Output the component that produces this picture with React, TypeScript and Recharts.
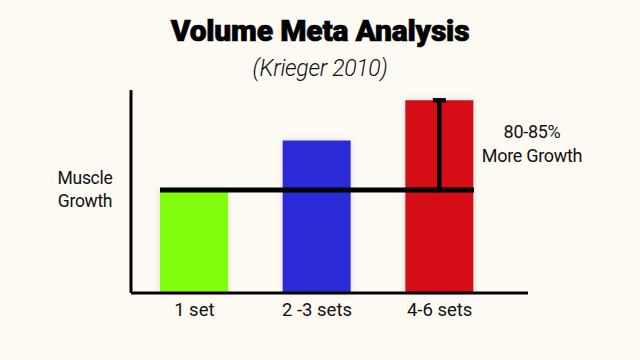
import { BarChart, Bar, XAxis, YAxis, ReferenceLine, ErrorBar, Cell } from "recharts";

const categories = ["1 set", "2 -3 sets", "4-6 sets"];
const growth = [100, 148, 187];
// extra growth of 4-6 sets over the 1-set level, drawn as a whisker down to the baseline
const extra = [null, null, [87, 0]];
const barColors = ["#80fc0e", "#2b2bd6", "#d41118"];
const baseline = 100;

const data = categories.map((name, i) => ({ name, growth: growth[i], extra: extra[i], idx: i }));

const font = "Roboto, 'Noto Sans', sans-serif";

export default function App() {
  return (
    <div
      style={{
        position: "absolute",
        top: 0,
        left: 0,
        width: 640,
        height: 360,
        background: "#fdfaf3",
        fontFamily: font,
        color: "#111",
        overflow: "hidden",
      }}
    >
      <div
        style={{
          position: "absolute",
          top: 13,
          width: 640,
          textAlign: "center",
          fontSize: 30,
          fontWeight: 900,
          letterSpacing: -0.2,
          lineHeight: "36px",
          WebkitTextStroke: "0.7px #000",
          color: "#000",
        }}
      >
        Volume Meta Analysis
      </div>
      <div
        style={{
          position: "absolute",
          top: 55,
          width: 640,
          textAlign: "center",
          fontSize: 23,
          fontWeight: 300,
          fontStyle: "italic",
          lineHeight: "28px",
          letterSpacing: -0.3,
        }}
      >
        (Krieger 2010)
      </div>

      <BarChart
        width={640}
        height={360}
        data={data}
        margin={{ top: 90, right: 112, left: 130, bottom: 37 }}
        style={{ position: "absolute", top: 0, left: 0 }}
      >
        <defs>
          <filter id="soft" x="-20%" y="-20%" width="140%" height="140%">
            <feDropShadow dx="0" dy="0" stdDeviation="3" floodColor="#000" floodOpacity="0.12" />
          </filter>
        </defs>
        <XAxis
          dataKey="name"
          type="category"
          padding={{ left: 2, right: 27 }}
          axisLine={{ stroke: "#000", strokeWidth: 3 }}
          tickLine={false}
          tickSize={0}
          tickMargin={10}
          height={30}
          tick={{ fontSize: 18.5, fill: "#111", fontFamily: font }}
        />
        <XAxis
          xAxisId="pos"
          dataKey="idx"
          type="number"
          domain={[-0.5, 2.5]}
          padding={{ left: 2, right: 27 }}
          hide
        />
        <YAxis
          width={1}
          domain={[0, 197]}
          tick={false}
          tickLine={false}
          axisLine={{ stroke: "#000", strokeWidth: 3 }}
        />
        <Bar dataKey="growth" barSize={68} isAnimationActive={false} filter="url(#soft)">
          {data.map((d, i) => (
            <Cell key={d.name} fill={barColors[i]} />
          ))}
          <ErrorBar dataKey="extra" width={6.5} strokeWidth={4.5} stroke="#000" />
        </Bar>
        <ReferenceLine
          xAxisId="pos"
          segment={[
            { x: -0.28, y: baseline },
            { x: 2.28, y: baseline },
          ]}
          stroke="#000"
          strokeWidth={5}
        />
      </BarChart>

      <div
        style={{
          position: "absolute",
          left: 35,
          top: 167,
          width: 100,
          textAlign: "center",
          fontSize: 17.5,
          lineHeight: "23px",
          letterSpacing: -0.3,
        }}
      >
        Muscle
        <br />
        Growth
      </div>
      <div
        style={{
          position: "absolute",
          left: 472,
          top: 120,
          width: 120,
          textAlign: "center",
          fontSize: 18,
          lineHeight: "24px",
          letterSpacing: -0.3,
        }}
      >
        80-85%
        <br />
        More Growth
      </div>
    </div>
  );
}
